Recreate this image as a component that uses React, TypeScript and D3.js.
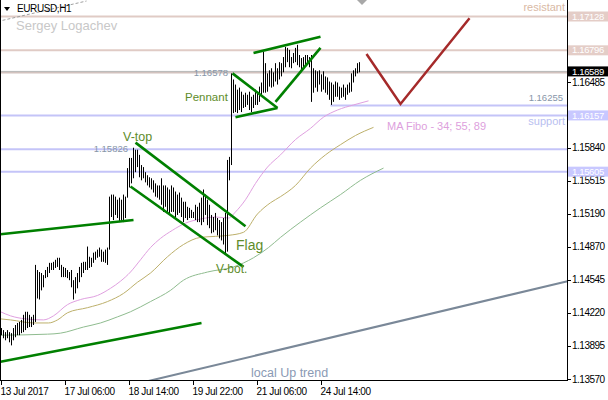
import React from 'react';
import * as d3 from 'd3';

const W = 608;
const H = 400;
const PLOT_RIGHT = 567.5;
const PLOT_BOTTOM = 381;

// Hourly EURUSD bars (high / low)
const highs = [
  1.1407, 1.1405, 1.1403, 1.1405, 1.1403, 1.1402, 1.1407, 1.141, 1.1412, 1.1413,
  1.1415, 1.142, 1.1423, 1.1423, 1.142, 1.1418, 1.142, 1.1469, 1.1464, 1.1462,
  1.1461, 1.1459, 1.1464, 1.1467, 1.1471, 1.1471, 1.1472, 1.1474, 1.1476, 1.1476,
  1.1469, 1.1467, 1.1466, 1.1464, 1.1462, 1.1464, 1.1454, 1.1457, 1.1461, 1.1467,
  1.1471, 1.1472, 1.1472, 1.1487, 1.1477, 1.1476, 1.1481, 1.1482, 1.1484, 1.1486,
  1.1484, 1.1482, 1.1484, 1.1486, 1.1536, 1.1538, 1.1538, 1.1536, 1.1533, 1.1535,
  1.1533, 1.1538, 1.1536, 1.1564, 1.1574, 1.1574, 1.1584, 1.1582, 1.1582, 1.1577,
  1.1567, 1.1565, 1.156, 1.1557, 1.1555, 1.1554, 1.1552, 1.1549, 1.1547, 1.1547,
  1.1554, 1.1547, 1.1547, 1.1545, 1.1543, 1.1547, 1.1545, 1.1541, 1.1538, 1.154,
  1.1535, 1.1531, 1.1531, 1.1526, 1.1525, 1.1523, 1.1521, 1.1528, 1.1526, 1.153,
  1.1535, 1.1543, 1.1538, 1.1533, 1.1528, 1.1518, 1.1516, 1.152, 1.1515, 1.1513,
  1.1511, 1.1515, 1.152, 1.1572, 1.1575, 1.1657, 1.1651, 1.1646, 1.1641, 1.1643,
  1.1639, 1.1636, 1.1638, 1.1636, 1.1639, 1.1634, 1.1636, 1.1641, 1.1639, 1.1644,
  1.1648, 1.1678, 1.1667, 1.1657, 1.166, 1.1662, 1.1658, 1.1667, 1.1662, 1.1668,
  1.1667, 1.1673, 1.1683, 1.1682, 1.168, 1.1673, 1.1677, 1.1682, 1.1685, 1.1675,
  1.1672, 1.1673, 1.1675, 1.1675, 1.1673, 1.1675, 1.1662, 1.166, 1.1659, 1.166,
  1.1656, 1.1659, 1.1654, 1.1653, 1.1649, 1.1648, 1.1646, 1.1649, 1.1648, 1.1644,
  1.1643, 1.1646, 1.1643, 1.1646, 1.1648, 1.1657, 1.166, 1.1662, 1.1667, 1.1668,
];
const lows = [
  1.14, 1.1397, 1.1395, 1.1397, 1.1393, 1.139, 1.1395, 1.1398, 1.14, 1.14,
  1.1402, 1.1403, 1.1405, 1.1407, 1.1408, 1.1408, 1.141, 1.1413, 1.1436, 1.1435,
  1.1444, 1.1447, 1.1456, 1.1457, 1.1461, 1.1464, 1.1464, 1.1466, 1.1467, 1.1464,
  1.1457, 1.1457, 1.1457, 1.1456, 1.1454, 1.1447, 1.1435, 1.1441, 1.1446, 1.1452,
  1.1457, 1.1461, 1.1464, 1.1464, 1.1466, 1.1467, 1.1471, 1.1474, 1.1476, 1.1477,
  1.1472, 1.1472, 1.1471, 1.1469, 1.1484, 1.1516, 1.1513, 1.1518, 1.1515, 1.1511,
  1.1513, 1.1511, 1.1515, 1.1535, 1.1545, 1.1549, 1.1554, 1.156, 1.1565, 1.1555,
  1.1552, 1.1554, 1.155, 1.1547, 1.1545, 1.1543, 1.154, 1.1536, 1.1535, 1.1533,
  1.1528, 1.1521, 1.1526, 1.1521, 1.1518, 1.1521, 1.1521, 1.1516, 1.1518, 1.152,
  1.1516, 1.1511, 1.1515, 1.1513, 1.1515, 1.1515, 1.1515, 1.1513, 1.1511, 1.1511,
  1.1508, 1.1511, 1.1518, 1.1508, 1.1505, 1.15, 1.1501, 1.1503, 1.1498, 1.1495,
  1.1493, 1.1489, 1.1479, 1.1482, 1.1552, 1.1567, 1.1618, 1.1619, 1.1618, 1.1621,
  1.1619, 1.1623, 1.1624, 1.1626, 1.1621, 1.1619, 1.1623, 1.1626, 1.1626, 1.1629,
  1.1634, 1.1638, 1.1638, 1.1639, 1.1644, 1.1643, 1.1644, 1.1649, 1.1646, 1.1651,
  1.1654, 1.1658, 1.1663, 1.1668, 1.1663, 1.1662, 1.1667, 1.1668, 1.1665, 1.1663,
  1.166, 1.1663, 1.1665, 1.1667, 1.1663, 1.1629, 1.1638, 1.1643, 1.1639, 1.1646,
  1.1639, 1.1641, 1.1638, 1.1636, 1.1631, 1.1626, 1.1629, 1.1634, 1.1634, 1.1631,
  1.1633, 1.1634, 1.1631, 1.1636, 1.1638, 1.1639, 1.1648, 1.1654, 1.1657, 1.1658,
];

// Moving averages (MA Fibo 34 / 55 / 89), read at bar positions
const ma34Idx = [-0.5, 4.5, 12, 21, 26, 33, 39.5, 48, 54.5, 59.5, 64.5, 69.5, 74.5, 79.5, 85.5, 92, 99.5, 107, 113.5, 117, 122, 127, 133, 139.5, 147, 154.5, 161, 168, 176, 183.5];
const ma34Val = [1.1423, 1.1419, 1.1416, 1.1415, 1.1419, 1.143, 1.1435, 1.1439, 1.1446, 1.1453, 1.1462, 1.1474, 1.1486, 1.1495, 1.1503, 1.151, 1.1514, 1.1516, 1.1515, 1.1521, 1.1533, 1.1549, 1.1565, 1.1577, 1.1592, 1.1603, 1.1614, 1.1621, 1.1626, 1.163];
const ma55Idx = [-0.5, 4.5, 16, 23.5, 28, 33, 43, 53, 61, 68, 74.5, 83, 91, 99.5, 107, 113.5, 121, 128, 134.5, 139.5, 147, 154.5, 162, 169.5, 177, 186];
const ma55Val = [1.1416, 1.1415, 1.1412, 1.1412, 1.1415, 1.1422, 1.1427, 1.1433, 1.1441, 1.1452, 1.1461, 1.1477, 1.1489, 1.1496, 1.1497, 1.1498, 1.1501, 1.1519, 1.153, 1.1536, 1.1547, 1.1564, 1.1577, 1.1587, 1.1596, 1.1604];
const ma89Idx = [-0.5, 23, 29.5, 41, 49.5, 58, 64.5, 74.5, 84.5, 91, 103, 116, 126, 133.5, 139.5, 149.5, 159.5, 169.5, 179.5, 191];
const ma89Val = [1.14, 1.1401, 1.1402, 1.1408, 1.1412, 1.1418, 1.1423, 1.1433, 1.1444, 1.1454, 1.1462, 1.1467, 1.1476, 1.1486, 1.1496, 1.1511, 1.1525, 1.1538, 1.1552, 1.1564];

// Axis labels
const dateIdx = [0, 32, 64, 96, 128, 160];
const dateLabels = ['13 Jul 2017', '17 Jul 06:00', '18 Jul 14:00', '19 Jul 22:00', '21 Jul 06:00', '24 Jul 14:00'];
const priceTicks = [1.16485, 1.1584, 1.15515, 1.1519, 1.1487, 1.14545, 1.1422, 1.13895, 1.1357];
const resistLevels = [1.17128, 1.16796];
const supportLevels = [1.16157, 1.15605];
const bidPrice = 1.16589;
const markLevel = 1.16578;
const flagTopLevel = 1.15826;
const rayLevel = 1.16255;
const rayStartIdx = 164.5;

// Drawn trendlines [barIndex, price]
const greenLines: [number, number][][] = [
  [[-0.5, 1.1499], [66, 1.1513]],
  [[-0.5, 1.1374], [100, 1.1412]],
  [[67, 1.1589], [122, 1.1507]],
  [[64.5, 1.1546], [121, 1.1467]],
  [[115.5, 1.1657], [138, 1.1623]],
  [[117, 1.1614], [138, 1.1623]],
  [[126, 1.1677], [159.5, 1.1693]],
  [[137, 1.1629], [159.5, 1.1682]],
];
const projection: [number, number][] = [[182.5, 1.1676], [199.5, 1.1627], [234, 1.1711]];
const upTrend: [number, number][] = [[73.5, 1.1355], [283, 1.1453]];
const dashTrend: [number, number][] = [[0.5, 1.1709], [42.5, 1.1728]];

const FONT = "'Liberation Sans', Arial, sans-serif";
const NOTE = '#5e8c2a';

export default function App() {
  const x = d3.scaleLinear().domain([0, 283]).range([1.5, 567.5]);
  const y = d3.scaleLinear().domain([1.1357, 1.17128]).range([379, 16.5]);
  const seg = d3.line<[number, number]>().x((d) => x(d[0])).y((d) => y(d[1]));
  const ma = d3
    .line<[number, number]>()
    .x((d) => x(d[0]))
    .y((d) => y(d[1]))
    .curve(d3.curveMonotoneX);
  const zip = (a: number[], b: number[]) => a.map((v, i) => [v, b[i]] as [number, number]);

  const labelBox = (p: number, bg: string, key: string) => (
    <g key={key}>
      <line x1={PLOT_RIGHT} x2={571} y1={Math.round(y(p)) + 0.5} y2={Math.round(y(p)) + 0.5} stroke="#000" />
      <rect x={568} y={y(p) - 5} width={40} height={10} fill={bg} />
      <text x={572} y={y(p)} dy="0.33em" fontSize={9.5} letterSpacing={-0.35} fill="#fff" fontFamily={FONT}>
        {p.toFixed(5)}
      </text>
    </g>
  );

  return (
    <svg width={W} height={H} style={{ position: 'absolute', left: 0, top: 0, background: '#fff' }}>
      <defs>
        <clipPath id="plot">
          <rect x={0} y={0} width={PLOT_RIGHT} height={PLOT_BOTTOM} />
        </clipPath>
      </defs>
      <rect x={0} y={0} width={W} height={H} fill="#fff" />
      <g clipPath="url(#plot)">
        {/* horizontal levels */}
        {resistLevels.map((p) => (
          <line key={'r' + p} x1={0} x2={PLOT_RIGHT} y1={y(p)} y2={y(p)} stroke="#e0cbc5" strokeWidth={2} />
        ))}
        <line x1={0} x2={PLOT_RIGHT} y1={y(markLevel)} y2={y(markLevel)} stroke="#d2c2be" strokeWidth={2} />
        <line x1={0} x2={PLOT_RIGHT} y1={y(bidPrice)} y2={y(bidPrice)} stroke="#b8b8b8" strokeWidth={1} />
        {supportLevels.map((p) => (
          <line key={'s' + p} x1={0} x2={PLOT_RIGHT} y1={y(p)} y2={y(p)} stroke="#c4c4f8" strokeWidth={2} />
        ))}
        <line x1={0} x2={PLOT_RIGHT} y1={y(flagTopLevel)} y2={y(flagTopLevel)} stroke="#c4c4f8" strokeWidth={2} />
        <line x1={x(rayStartIdx)} x2={PLOT_RIGHT} y1={y(rayLevel)} y2={y(rayLevel)} stroke="#c4c4f8" strokeWidth={2} />

        {/* dashed old trend */}
        <path d={seg(dashTrend) || ''} stroke="#a0a0a0" strokeWidth={1} strokeDasharray="3,2" fill="none" />

        {/* moving averages */}
        <path d={ma(zip(ma89Idx, ma89Val)) || ''} stroke="#8fbc8f" strokeWidth={1} fill="none" />
        <path d={ma(zip(ma55Idx, ma55Val)) || ''} stroke="#bdb06b" strokeWidth={1} fill="none" />
        <path d={ma(zip(ma34Idx, ma34Val)) || ''} stroke="#e0a0e0" strokeWidth={1} fill="none" />

        {/* bars */}
        {highs.map((h, i) => (
          <line
            key={'b' + i}
            x1={x(i)}
            x2={x(i)}
            y1={y(h)}
            y2={y(lows[i])}
            stroke="#000"
            strokeWidth={1}
          />
        ))}

        {/* up trend */}
        <path d={seg(upTrend) || ''} stroke="#7a8898" strokeWidth={2} fill="none" />

        {/* pattern lines */}
        {greenLines.map((l, i) => (
          <path key={'g' + i} d={seg(l) || ''} stroke="#008000" strokeWidth={2.6} fill="none" />
        ))}
        <path d={seg(projection) || ''} stroke="#a52a2a" strokeWidth={2.5} fill="none" strokeLinejoin="miter" />

        {/* chart shift marker */}
        <path d="M357,0 L367,0 L362,5 Z" fill="#a8a8a8" />
      </g>

      {/* frame */}
      <line x1={0.5} x2={0.5} y1={0} y2={PLOT_BOTTOM} stroke="#000" />
      <line x1={PLOT_RIGHT} x2={PLOT_RIGHT} y1={0} y2={PLOT_BOTTOM} stroke="#000" />
      <line x1={0} x2={PLOT_RIGHT} y1={PLOT_BOTTOM - 0.5} y2={PLOT_BOTTOM - 0.5} stroke="#000" />

      {/* price axis */}
      {priceTicks.map((p) => (
        <g key={'t' + p}>
          <line x1={PLOT_RIGHT} x2={571} y1={Math.round(y(p)) + 0.5} y2={Math.round(y(p)) + 0.5} stroke="#000" />
          <text x={572} y={y(p)} dy="0.35em" fontSize={10} letterSpacing={-0.5} fill="#000" fontFamily={FONT}>
            {p.toFixed(5)}
          </text>
        </g>
      ))}
      {resistLevels.map((p) => labelBox(p, '#e4cdc7', 'rl' + p))}
      {supportLevels.map((p) => labelBox(p, '#c8c8ff', 'sl' + p))}
      {labelBox(bidPrice, '#000', 'bid')}

      {/* time axis */}
      {dateIdx.map((d, i) => (
        <g key={'d' + d}>
          <line x1={x(d)} x2={x(d)} y1={PLOT_BOTTOM - 1} y2={PLOT_BOTTOM + 4} stroke="#000" />
          <text x={x(d) - 1} y={395} fontSize={10} letterSpacing={-0.35} fill="#000" fontFamily={FONT}>
            {dateLabels[i]}
          </text>
        </g>
      ))}

      {/* header */}
      <path d="M4,7 L10,7 L7,11 Z" fill="#000" />
      <text x={17} y={12} fontSize={10} letterSpacing={-0.4} fill="#000" fontFamily={FONT}>EURUSD,H1</text>
      <text x={16} y={30} fontSize={13} fill="#c8c8c8" fontFamily={FONT}>Sergey Logachev</text>

      {/* annotations */}
      <text x={565} y={11} fontSize={11} textAnchor="end" fill="#d9b9a4" fontFamily={FONT}>resistant</text>
      <text x={565} y={125} fontSize={11} textAnchor="end" fill="#b8c0f0" fontFamily={FONT}>support</text>
      <text x={563} y={y(rayLevel) - 4} fontSize={9.5} textAnchor="end" fill="#8796a8" fontFamily={FONT}>{rayLevel.toFixed(5)}</text>
      <text x={228} y={y(markLevel)} dy="0.35em" fontSize={9.5} textAnchor="end" fill="#8796a8" fontFamily={FONT}>{markLevel.toFixed(5)}</text>
      <text x={128} y={y(flagTopLevel)} dy="0.35em" fontSize={9.5} textAnchor="end" fill="#8796a8" fontFamily={FONT}>{flagTopLevel.toFixed(5)}</text>
      <text x={123} y={141} fontSize={12.5} fill={NOTE} fontFamily={FONT}>V-top</text>
      <text x={185} y={101} fontSize={11.5} fill={NOTE} fontFamily={FONT}>Pennant</text>
      <text x={236} y={250} fontSize={14} fill={NOTE} fontFamily={FONT}>Flag</text>
      <text x={216} y={273} fontSize={12} fill={NOTE} fontFamily={FONT}>V-bot.</text>
      <text x={387} y={130} fontSize={11} fill="#dda0dd" fontFamily={FONT}>MA Fibo - 34; 55; 89</text>
      <text x={251} y={377} fontSize={12.5} fill="#8a9ab4" fontFamily={FONT}>local Up trend</text>
    </svg>
  );
}
